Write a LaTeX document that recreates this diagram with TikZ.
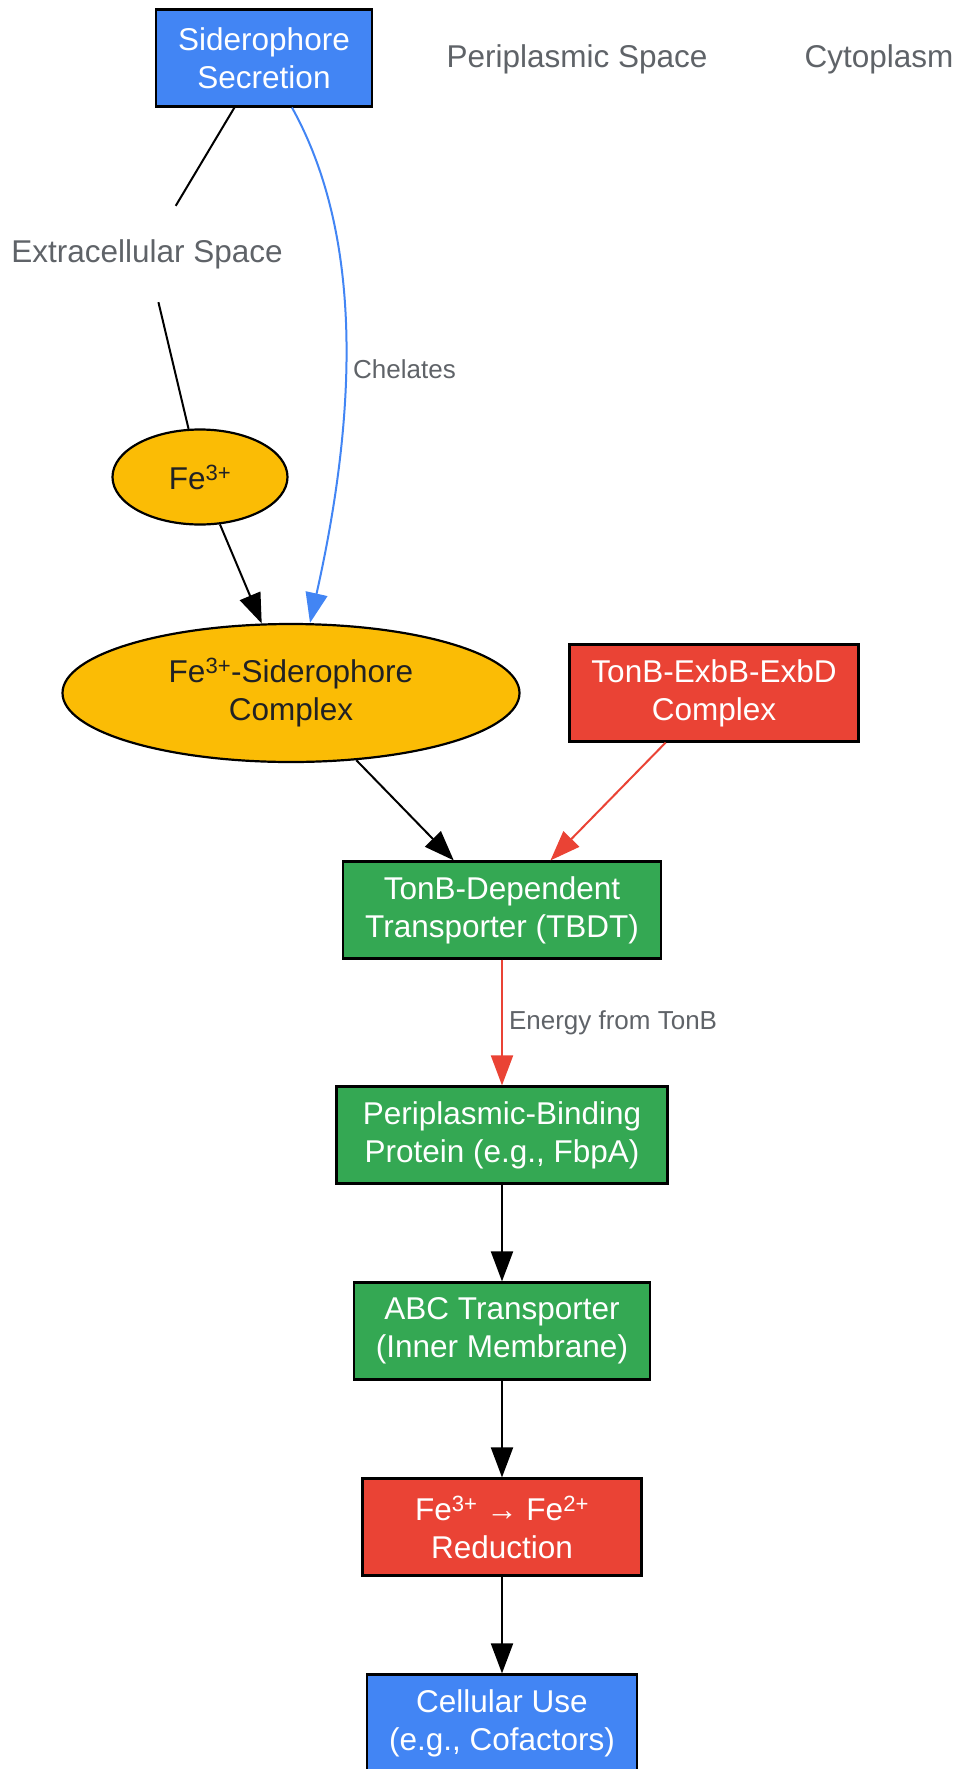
\documentclass[tikz,border=0pt]{standalone}
\usepackage{fontspec}
\setmainfont{Liberation Sans}
\usetikzlibrary{arrows.meta,shapes.geometric,calc}

\definecolor{gblue}{HTML}{4285F4}
\definecolor{gyellow}{HTML}{FBBC05}
\definecolor{gred}{HTML}{EA4335}
\definecolor{ggreen}{HTML}{34A853}
\definecolor{ggray}{HTML}{5F6368}
\definecolor{ink}{HTML}{202124}
\newcommand{\chg}[1]{\textsuperscript{#1}}

\tikzset{
	stepbox/.style={rectangle, draw=black, line width=2.2pt, align=center, text=white,
		inner xsep=22pt, inner ysep=0pt, minimum height=97pt, font=\fontsize{31.5}{38}\selectfont},
	ionblob/.style={ellipse, draw=black, line width=2.2pt, align=center, fill=gyellow, text=ink,
		inner sep=0pt, font=\fontsize{31.5}{38}\selectfont},
	zone/.style={text=ggray, inner sep=0pt, font=\fontsize{31.5}{38}\selectfont},
	edgelabel/.style={text=ggray, inner sep=0pt, font=\fontsize{26}{31}\selectfont},
	wire/.style={line width=2pt},
	flow/.style={line width=2pt, -{Triangle[length=30pt, width=22pt]}},
}

\begin{document}
\begin{tikzpicture}[x=1pt, y=-1pt]
	\useasboundingbox (0, 0) rectangle (956, 1769);
	% Nodes, zones and arrows:
	\draw node[stepbox, fill=gblue] (Sec) at (264, 58) {Siderophore\\Secretion};
	\draw node[zone] (Peri) at (577, 59) {Periplasmic Space};
	\draw node[zone] (Cyto) at (879, 59) {Cytoplasm};
	\draw node[zone, minimum height=96pt] (Extra) at (147, 254) {Extracellular Space};
	\draw node[ionblob, minimum width=175pt, minimum height=95pt] (Fe) at (200, 477) {Fe\chg{3+}};
	\draw node[ionblob, minimum width=457pt, minimum height=138pt] (Cplx) at (291, 693) {Fe\chg{3+}-Siderophore\\Complex};
	\draw node[stepbox, fill=gred] (TonB) at (714, 693) {TonB-ExbB-ExbD\\Complex};
	\draw node[stepbox, fill=ggreen] (TBDT) at (502, 910) {TonB-Dependent\\Transporter (TBDT)};
	\draw node[stepbox, fill=ggreen, minimum width=331pt] (PBP) at (502, 1135) {Periplasmic-Binding\\Protein (e.g., FbpA)};
	\draw node[stepbox, fill=ggreen] (ABC) at (502, 1331) {ABC Transporter\\(Inner Membrane)};
	\draw node[stepbox, fill=gred, minimum width=279pt] (Red) at (502, 1527) {Fe\chg{3+} → Fe\chg{2+}\\Reduction};
	\draw node[stepbox, fill=gblue] (Use) at (502, 1723) {Cellular Use\\(e.g., Cofactors)};
	\draw[wire] (Sec) -- (Extra);
	\draw[wire] (Extra) -- (Fe);
	\draw[flow] (Fe) -- (Cplx);
	\draw[flow, gblue] ([xshift=28pt]Sec.south) .. controls (360, 230) and (360, 400) .. ([xshift=19pt]Cplx.north)
		node[edgelabel, pos=0.58, anchor=west, xshift=7pt] {Chelates};
	\draw[flow] (Cplx) -- (TBDT);
	\draw[flow, gred] (TonB) -- (TBDT);
	\draw[flow, gred] (TBDT) -- (PBP) node[edgelabel, midway, anchor=west, xshift=6pt] {Energy from TonB};
	\draw[flow] (PBP) -- (ABC);
	\draw[flow] (ABC) -- (Red);
	\draw[flow] (Red) -- (Use);
\end{tikzpicture}
\end{document}
